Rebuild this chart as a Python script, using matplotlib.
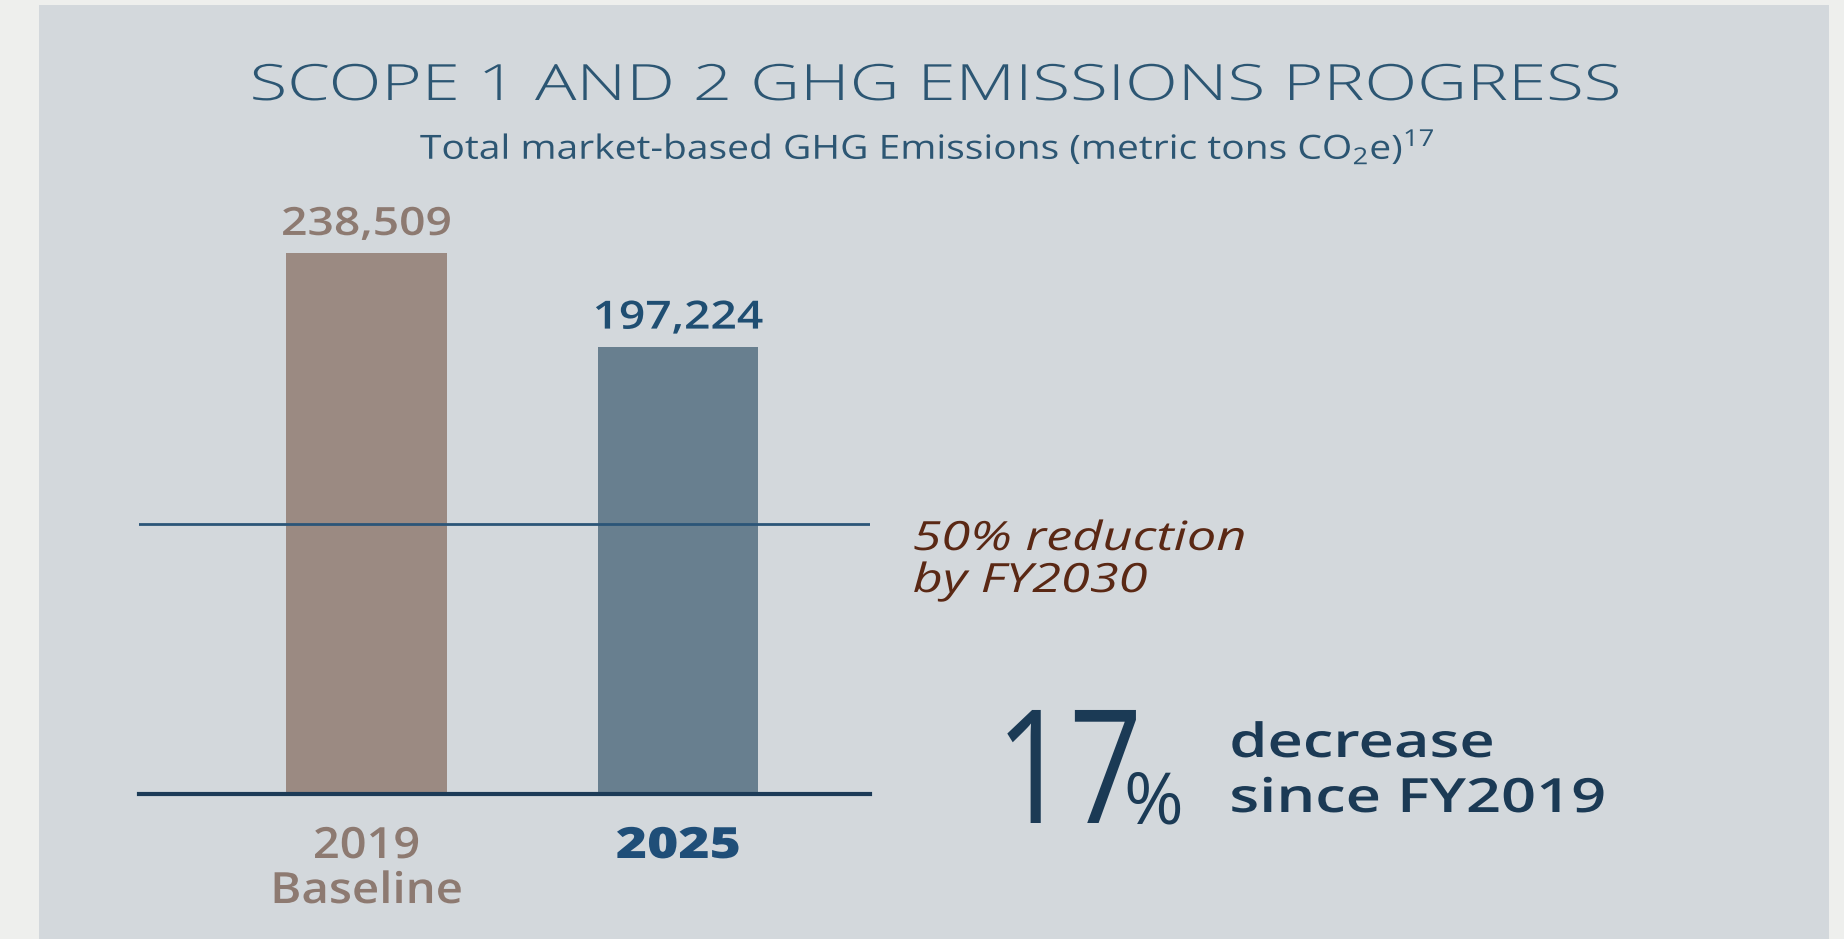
import matplotlib.pyplot as plt
from matplotlib.patches import Rectangle
from matplotlib.patheffects import AbstractPathEffect
from matplotlib.transforms import Affine2D

# data
categories = ['2019', '2025']
sublabels = ['Baseline', '']
values = [238509, 197224]
value_labels = ['238,509', '197,224']
target_share = 0.5          # 50% reduction target vs baseline
pct_decrease = '17'

W, H = 1844, 939
plt.rcParams['font.family'] = ['Open Sans', 'DejaVu Sans']
plt.rcParams['mathtext.fontset'] = 'custom'
plt.rcParams['mathtext.rm'] = 'Open Sans'


class Stretch(AbstractPathEffect):
    """widen glyphs horizontally (the original uses a wide geometric face)"""

    def __init__(self, sx, anchor='center'):
        super().__init__()
        self.sx = sx
        self.anchor = anchor

    def draw_path(self, renderer, gc, tpath, affine, rgbFace=None):
        ext = tpath.get_extents(affine)
        cx = ext.x0 if self.anchor == 'left' else (ext.x0 + ext.x1) / 2
        affine = affine + Affine2D().translate(-cx, 0).scale(self.sx, 1).translate(cx, 0)
        renderer.draw_path(gc, tpath, affine, rgbFace)


fig = plt.figure(figsize=(W / 100, H / 100), dpi=100)
fig.patch.set_facecolor('#eeefed')


def fx(x):
    return x / W


def fy(y):
    return 1 - y / H


# background panel
fig.add_artist(Rectangle((fx(39), 0), fx(1829) - fx(39), fy(5), transform=fig.transFigure,
                         facecolor='#d3d8dc', edgecolor='none', zorder=0))

# axes: spans x 139..870 px, y 253..794 px
ax = fig.add_axes([fx(139), fy(794), fx(870) - fx(139), (794 - 253) / H])
ax.set_facecolor('none')
for s in ax.spines.values():
    s.set_visible(False)
ax.set_xticks([])
ax.set_yticks([])

x = [0, 1]
colors = ['#9b8a82', '#687f8f']
ax.bar(x, values, width=0.514, color=colors, zorder=2)
ax.set_xlim(-0.730, 1.616)
ax.set_ylim(0, values[0])

ax.axhline(0, color='#1c3b57', lw=3, zorder=3, clip_on=False)
ax.axhline(values[0] * target_share, color='#2b5578', lw=2, zorder=3)

label_cols = ['#8d7a71', '#1f4e72']
for xi, v, lab, c in zip(x, values, value_labels, label_cols):
    ax.annotate(lab, (xi, v), xytext=(0, 13), textcoords='offset points',
                ha='center', va='baseline', fontsize=28, color=c, fontweight='semibold',
                path_effects=[Stretch(1.19)])

cat_cols = ['#8d7a71', '#1f4e78']
cat_weights = ['semibold', 'heavy']
cat_stretch = [1.09, 1.24]
xt = ax.get_xaxis_transform()
for xi, cat, sub, c, w, st in zip(x, categories, sublabels, cat_cols, cat_weights, cat_stretch):
    ax.text(xi, -0.1183, cat, transform=xt, ha='center', va='baseline',
            fontsize=31, color=c, fontweight=w, path_effects=[Stretch(st)])
    if sub:
        ax.text(xi, -0.2015, sub, transform=xt, ha='center', va='baseline',
                fontsize=31, color=c, fontweight=w, path_effects=[Stretch(1.1)])

# title and subtitle
fig.text(fx(935), fy(100), 'SCOPE 1 AND 2 GHG EMISSIONS PROGRESS', ha='center', va='baseline',
         fontsize=36, color='#2c5673', fontweight='light', path_effects=[Stretch(1.38)])
fig.text(fx(928), fy(159), r'Total market-based GHG Emissions (metric tons CO$_2$e)$^{17}$',
         ha='center', va='baseline', fontsize=24, color='#2c5673',
         path_effects=[Stretch(1.17)])

# target annotation
for txt, yb in [('50% reduction', 550), ('by FY2030', 592)]:
    fig.text(fx(913), fy(yb), txt, ha='left', va='baseline', fontsize=29,
             style='italic', fontweight='normal', color='#5a2814',
             path_effects=[Stretch(1.3, 'left')])

# big stat
fig.text(fx(993), fy(823), pct_decrease, ha='left', va='baseline', fontsize=114,
         color='#1b3a55', fontweight='normal', path_effects=[Stretch(0.81, 'left')])
fig.text(fx(1123), fy(823), '%', ha='left', va='baseline', fontsize=52,
         color='#1b3a55', fontweight='normal')
for txt, yb in [('decrease', 757), ('since FY2019', 812)]:
    fig.text(fx(1230), fy(yb), txt, ha='left', va='baseline', fontsize=34,
             color='#1b3a55', fontweight='semibold', path_effects=[Stretch(1.3, 'left')])

fig.savefig('out.png', dpi=100)
